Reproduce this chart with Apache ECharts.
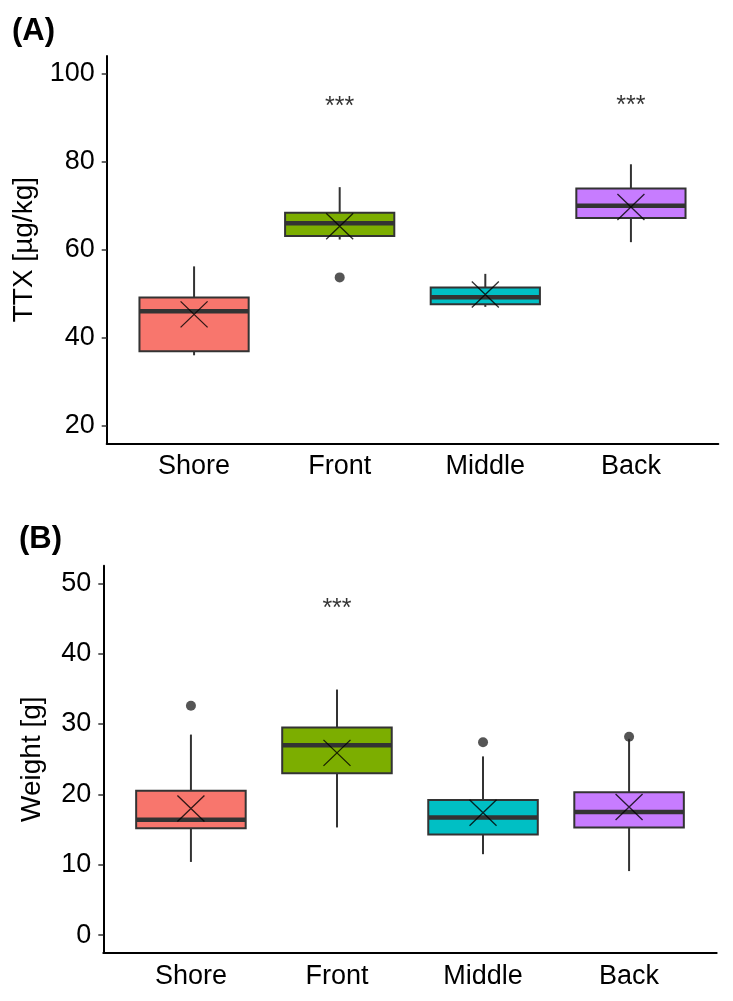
<!DOCTYPE html>
<html>
<head>
<meta charset="utf-8">
<script src="https://cdn.jsdelivr.net/npm/echarts@6/dist/echarts.min.js"></script>
<style>
html,body{margin:0;padding:0;background:#fff;}
#chart{width:733px;height:1001px;}
</style>
</head>
<body>
<div id="chart"></div>
<script>
// ---- data ----
const categories = ['Shore', 'Front', 'Middle', 'Back'];

// Panel A: TTX [µg/kg]
const ttxMin    = [36.0, 62.3, 47.0, 61.7];
const ttxQ1     = [36.9, 63.1, 47.6, 67.2];
const ttxMedian = [46.0, 66.0, 49.2, 70.0];
const ttxQ3     = [49.1, 68.4, 51.4, 73.9];
const ttxMax    = [56.2, 74.2, 54.5, 79.4];
const ttxMean   = [45.3, 65.3, 49.8, 69.7];
const ttxOutliers = [['Front', 53.7]];
const ttxSignif   = [['Front', 92.4], ['Back', 92.6]];
const ttxTicks    = [20, 40, 60, 80, 100];

// Panel B: Weight [g]
const wMin    = [10.4, 15.3, 11.5, 9.1];
const wQ1     = [15.2, 23.0, 14.3, 15.3];
const wMedian = [16.4, 27.0, 16.7, 17.5];
const wQ3     = [20.5, 29.5, 19.2, 20.3];
const wMax    = [28.5, 34.9, 25.4, 27.9];
const wMean   = [18.0, 25.9, 17.4, 18.2];
const wOutliers = [['Shore', 32.6], ['Middle', 27.4], ['Back', 28.2]];
const wSignif   = [['Front', 46.4]];
const wTicks    = [0, 10, 20, 30, 40, 50];

// ---- helpers ----
const fillColors = ['#F8766D', '#7CAE00', '#00BFC4', '#C77CFF'];
const FONT = 'Liberation Sans, Arial, sans-serif';
const pos = name => categories.indexOf(name) + 1;

function boxData(mn, q1, md, q3, mx) {
  return categories.map((c, i) => [i + 1, mn[i], q1[i], md[i], q3[i], mx[i], i]);
}
function renderBox(params, api) {
  const x = api.value(0);
  const idx = api.value(6);
  const w = api.size([0.75, 0])[0];
  const pLo = api.coord([x, api.value(1)]);
  const pQ1 = api.coord([x, api.value(2)]);
  const pMd = api.coord([x, api.value(3)]);
  const pQ3 = api.coord([x, api.value(4)]);
  const pHi = api.coord([x, api.value(5)]);
  const stroke = '#333333';
  return {
    type: 'group',
    children: [
      { type: 'line', shape: { x1: pQ3[0], y1: pQ3[1], x2: pHi[0], y2: pHi[1] }, style: { stroke, lineWidth: 2 } },
      { type: 'line', shape: { x1: pLo[0], y1: pLo[1], x2: pQ1[0], y2: pQ1[1] }, style: { stroke, lineWidth: 2 } },
      { type: 'rect', shape: { x: pQ1[0] - w / 2, y: pQ3[1], width: w, height: pQ1[1] - pQ3[1] },
        style: { fill: fillColors[idx], stroke, lineWidth: 2 } },
      { type: 'line', shape: { x1: pMd[0] - w / 2, y1: pMd[1], x2: pMd[0] + w / 2, y2: pMd[1] }, style: { stroke, lineWidth: 4.5 } }
    ]
  };
}

function axesFor(gridIndex, yMin, yMax, yTicks, yName, nameGap) {
  const xAxis = {
    type: 'value', gridIndex, min: 0.4, max: 4.6,
    splitLine: { show: false },
    axisLine: { show: true, onZero: false, lineStyle: { color: '#000', width: 2 } },
    axisTick: { show: false },
    axisLabel: {
      customValues: [1, 2, 3, 4],
      formatter: v => categories[Math.round(v) - 1] || '',
      fontSize: 27, color: '#000', fontFamily: FONT, margin: 10
    }
  };
  const yAxis = {
    type: 'value', gridIndex, min: yMin, max: yMax,
    name: yName, nameLocation: 'middle', nameGap,
    nameTextStyle: { fontSize: 28, color: '#000', fontFamily: FONT },
    splitLine: { show: false },
    axisLine: { show: true, onZero: false, lineStyle: { color: '#000', width: 2 } },
    axisTick: { show: true, customValues: yTicks, length: 5, lineStyle: { color: '#333', width: 1.5 } },
    axisLabel: { customValues: yTicks, fontSize: 27, color: '#000', fontFamily: FONT, margin: 12 }
  };
  return { xAxis, yAxis };
}

const a = axesFor(0, 16, 104, ttxTicks, 'TTX [µg/kg]', 63);
const b = axesFor(1, -2.5, 52.5, wTicks, 'Weight [g]', 57);

function seriesFor(idx, mn, q1, md, q3, mx, mean, outl, sig) {
  return [
    { type: 'custom', xAxisIndex: idx, yAxisIndex: idx, renderItem: renderBox,
      data: boxData(mn, q1, md, q3, mx), encode: { x: 0, y: [1, 5] }, z: 2, silent: true },
    { type: 'scatter', xAxisIndex: idx, yAxisIndex: idx, z: 3, silent: true,
      symbol: 'circle', symbolSize: 10, itemStyle: { color: '#2b2b2b' },
      data: outl.map(d => [pos(d[0]), d[1]]) },
    { type: 'scatter', xAxisIndex: idx, yAxisIndex: idx, z: 4, silent: true,
      symbol: 'path://M0,0L10,10M10,0L0,10', symbolSize: [27, 26],
      itemStyle: { color: 'none', borderColor: '#000', borderWidth: 1.3 },
      data: mean.map((v, i) => [i + 1, v]) },
    { type: 'scatter', xAxisIndex: idx, yAxisIndex: idx, z: 5, silent: true,
      symbolSize: 1, itemStyle: { color: 'rgba(0,0,0,0)' },
      label: { show: true, position: 'inside', formatter: '***', fontSize: 25, color: '#000', fontFamily: FONT },
      data: sig.map(d => [pos(d[0]), d[1]]) }
  ];
}

const chart = echarts.init(document.getElementById('chart'), null, { renderer: 'canvas' });
chart.setOption({
  backgroundColor: '#fff',
  animation: false,
  title: [
    { text: '(A)', left: 7, top: 11, textStyle: { fontSize: 31, fontWeight: 'bold', color: '#000', fontFamily: FONT } },
    { text: '(B)', left: 14, top: 519, textStyle: { fontSize: 31, fontWeight: 'bold', color: '#000', fontFamily: FONT } }
  ],
  grid: [
    { left: 106.7, right: 14.7, top: 56, height: 387.3 },
    { left: 103.3, right: 16.3, top: 565.7, height: 387 }
  ],
  xAxis: [a.xAxis, b.xAxis],
  yAxis: [a.yAxis, b.yAxis],
  series: [
    ...seriesFor(0, ttxMin, ttxQ1, ttxMedian, ttxQ3, ttxMax, ttxMean, ttxOutliers, ttxSignif),
    ...seriesFor(1, wMin, wQ1, wMedian, wQ3, wMax, wMean, wOutliers, wSignif)
  ]
});
</script>
</body>
</html>
